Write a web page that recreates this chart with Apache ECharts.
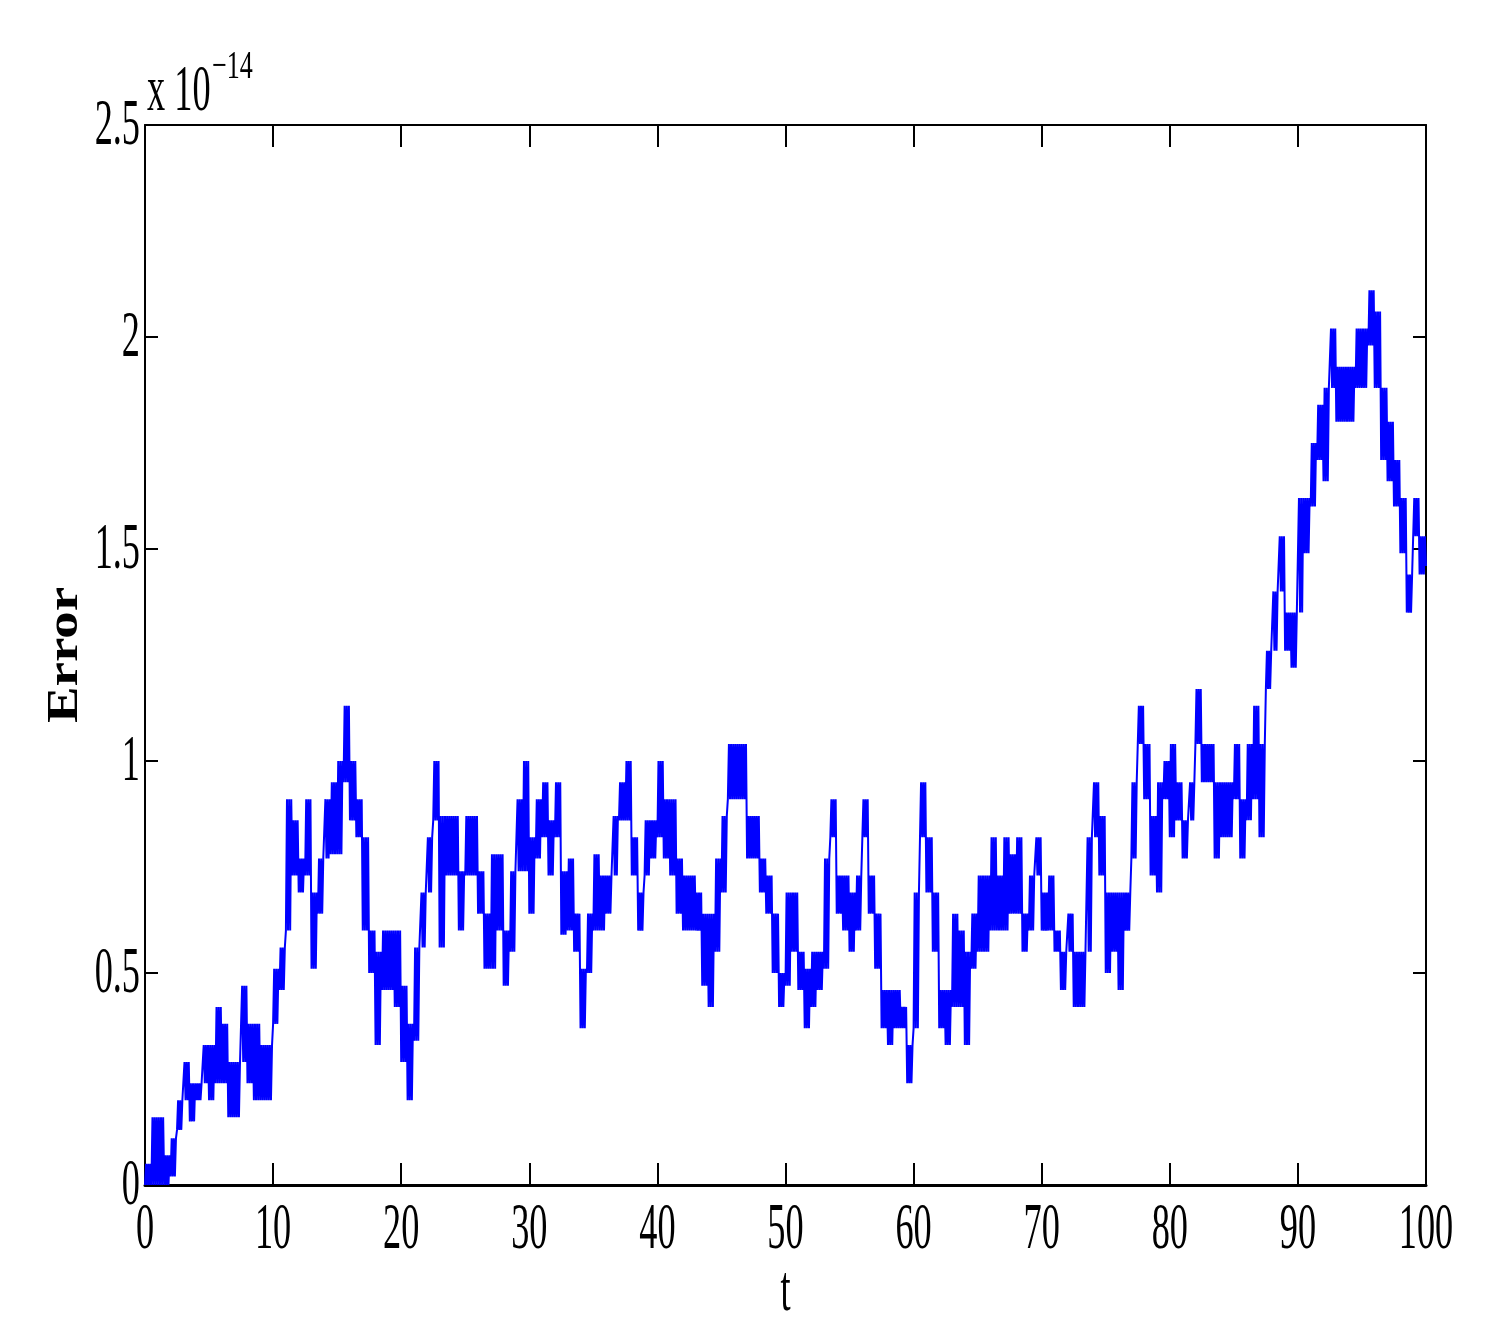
<!DOCTYPE html>
<html><head><meta charset="utf-8">
<script src="https://cdn.jsdelivr.net/npm/echarts@6/dist/echarts.min.js"></script>
<style>html,body{margin:0;padding:0;background:#fff}#c{width:1511px;height:1337px}</style>
</head><body><div id="c"></div>
<script>
// time resolution of the envelope bins (t units)
const binStep = 0.5;
// lower / upper envelope of the error in each bin (units of 1e-14)
const errLow = [
 0,0,0,0,0.02,0.13,0.2,0.15,0.2,0.24,0.2,0.24,0.24,0.16,0.16,0.29,0.24,0.2,0.2,0.2,
 0.38,0.46,0.6,0.73,0.69,0.73,0.51,0.64,0.77,0.78,0.78,0.95,0.86,0.82,0.6,0.5,0.33,0.46,0.46,0.42,
 0.29,0.2,0.34,0.56,0.69,0.86,0.56,0.73,0.73,0.6,0.73,0.73,0.64,0.51,0.51,0.6,0.47,0.55,0.74,0.74,
 0.64,0.77,0.82,0.73,0.82,0.59,0.6,0.55,0.37,0.5,0.6,0.6,0.64,0.73,0.86,0.86,0.73,0.6,0.73,0.77,
 0.82,0.77,0.73,0.64,0.6,0.6,0.6,0.47,0.42,0.55,0.69,0.91,0.91,0.91,0.77,0.77,0.69,0.64,0.5,0.42,
 0.47,0.55,0.46,0.37,0.42,0.46,0.51,0.82,0.64,0.6,0.55,0.6,0.82,0.64,0.51,0.37,0.33,0.37,0.37,0.24,
 0.37,0.82,0.69,0.55,0.37,0.33,0.42,0.42,0.33,0.51,0.55,0.55,0.6,0.6,0.6,0.64,0.64,0.55,0.6,0.73,
 0.6,0.6,0.55,0.46,0.55,0.42,0.42,0.55,0.82,0.73,0.5,0.55,0.46,0.6,0.77,1.04,0.91,0.73,0.69,0.91,
 0.82,0.86,0.77,0.86,1.04,0.95,0.95,0.77,0.82,0.82,0.91,0.77,0.86,0.91,0.82,1.17,1.26,1.4,1.26,1.22,
 1.35,1.49,1.6,1.71,1.66,1.88,1.8,1.8,1.8,1.88,1.88,1.98,1.88,1.71,1.66,1.6,1.49,1.35,1.53,1.44
];
const errHigh = [
 0.05,0.16,0.16,0.07,0.11,0.2,0.29,0.24,0.24,0.33,0.33,0.42,0.38,0.29,0.29,0.47,0.38,0.38,0.33,0.33,
 0.51,0.56,0.91,0.86,0.77,0.91,0.69,0.77,0.91,0.95,1.0,1.13,1.0,0.91,0.82,0.6,0.55,0.6,0.6,0.6,
 0.47,0.38,0.56,0.69,0.82,1.0,0.87,0.87,0.87,0.74,0.87,0.87,0.74,0.64,0.78,0.78,0.6,0.74,0.91,1.0,
 0.82,0.91,0.95,0.86,0.95,0.74,0.77,0.64,0.51,0.64,0.78,0.73,0.73,0.87,0.95,1.0,0.82,0.69,0.86,0.86,
 1.0,0.91,0.91,0.77,0.73,0.73,0.69,0.64,0.64,0.77,0.87,1.04,1.04,1.04,0.87,0.87,0.77,0.73,0.64,0.5,
 0.69,0.69,0.55,0.51,0.55,0.55,0.77,0.91,0.73,0.73,0.69,0.73,0.91,0.73,0.64,0.46,0.46,0.46,0.42,0.33,
 0.69,0.95,0.82,0.69,0.46,0.46,0.64,0.6,0.55,0.64,0.73,0.73,0.82,0.73,0.82,0.78,0.82,0.64,0.73,0.82,
 0.69,0.73,0.6,0.55,0.64,0.55,0.55,0.82,0.95,0.87,0.69,0.69,0.69,0.69,0.95,1.13,1.04,0.87,0.95,1.0,
 1.04,0.95,0.86,0.95,1.17,1.04,1.04,0.95,0.95,0.95,1.04,0.91,1.04,1.13,1.04,1.26,1.4,1.53,1.35,1.35,
 1.62,1.62,1.75,1.84,1.88,2.02,1.93,1.93,1.93,2.02,2.02,2.11,2.06,1.88,1.8,1.71,1.62,1.44,1.62,1.53
];
const xTicks = [0,10,20,30,40,50,60,70,80,90,100];
const xTickLabels = ['0','10','20','30','40','50','60','70','80','90','100'];
const yTicks = [0,0.5,1,1.5,2,2.5];
const yTickLabels = ['0','0.5','1','1.5','2','2.5'];
const xTitle = 't';
const yTitle = 'Error';
const expBase = 'x 10';
const expPower = '\u221214';

// build a dense vertical oscillation between the envelopes in each bin
const subPoints = 6;
const lineData = [];
for (let i = 0; i < errLow.length; i++) {
  const t0 = i * binStep;
  for (let k = 0; k < subPoints; k++) {
    lineData.push([t0 + binStep * k / subPoints, k % 2 === 0 ? errLow[i] : errHigh[i]]);
  }
}
lineData.push([100, errLow[errLow.length - 1] + 0.02]);

const chart = echarts.init(document.getElementById('c'), null, {renderer: 'canvas'});
const axisCommon = {
  type: 'value', splitLine: {show: false}, axisLabel: {show: false},
  axisLine: {show: true, onZero: false, lineStyle: {color: '#000', width: 2}},
};
chart.setOption({
  animation: false,
  backgroundColor: '#fff',
  grid: {left: 145, top: 125, right: 85, bottom: 152, containLabel: false},
  xAxis: [
    Object.assign({}, axisCommon, {position: 'bottom', min: 0, max: 100, interval: 10,
      axisLine: {show: true, onZero: false, lineStyle: {color: '#000', width: 3}},
      axisTick: {show: true, inside: true, length: 22, lineStyle: {color: '#000', width: 2}}}),
    Object.assign({}, axisCommon, {position: 'top', min: 0, max: 100, interval: 10,
      axisTick: {show: true, inside: true, length: 22, lineStyle: {color: '#000', width: 2}}})
  ],
  yAxis: [
    Object.assign({}, axisCommon, {position: 'left', min: 0, max: 2.5, interval: 0.5,
      axisTick: {show: true, inside: true, length: 13, lineStyle: {color: '#000', width: 2}}}),
    Object.assign({}, axisCommon, {position: 'right', min: 0, max: 2.5, interval: 0.5,
      axisTick: {show: true, inside: true, length: 13, lineStyle: {color: '#000', width: 2}}})
  ],
  series: [{
    type: 'line', data: lineData, xAxisIndex: 0, yAxisIndex: 0,
    showSymbol: false, symbol: 'none', sampling: null, clip: true,
    lineStyle: {color: '#0000ff', width: 2}
  }]
});

const FONT = '"Liberation Serif", "Times New Roman", serif';
const graphics = [];
const px = (t, v) => chart.convertToPixel({xAxisIndex: 0, yAxisIndex: 0}, [t, v]);
xTicks.forEach((t, i) => {
  const p = px(t, 0);
  graphics.push({type: 'text', x: p[0], y: p[1] + 46, scaleX: 0.55, silent: true,
    style: {text: xTickLabels[i], fontFamily: FONT, fontSize: 66, fill: '#000', align: 'center', verticalAlign: 'middle'}});
});
yTicks.forEach((v, i) => {
  const p = px(0, v);
  graphics.push({type: 'text', x: p[0] - 5, y: p[1] + 2, scaleX: 0.55, silent: true,
    style: {text: yTickLabels[i], fontFamily: FONT, fontSize: 66, fill: '#000', align: 'right', verticalAlign: 'middle'}});
});
const pTop = px(0, 2.5);
graphics.push({type: 'text', x: pTop[0] + 2, y: pTop[1] - 32, scaleX: 0.55, silent: true,
  style: {text: expBase, fontFamily: FONT, fontSize: 66, fill: '#000', align: 'left', verticalAlign: 'middle'}});
graphics.push({type: 'text', x: pTop[0] + 67, y: pTop[1] - 58, scaleX: 0.65, silent: true,
  style: {text: expPower, fontFamily: FONT, fontSize: 40, fill: '#000', align: 'left', verticalAlign: 'middle'}});
const pMid = px(50, 0);
graphics.push({type: 'text', x: pMid[0], y: pMid[1] + 108, scaleX: 0.55, silent: true,
  style: {text: xTitle, fontFamily: FONT, fontSize: 66, fill: '#000', align: 'center', verticalAlign: 'middle'}});
const pY = px(0, 1.25);
graphics.push({type: 'text', x: pY[0] - 80, y: pY[1], rotation: Math.PI / 2, scaleX: 1.22, silent: true,
  style: {text: yTitle, fontFamily: FONT, fontSize: 45, fontWeight: 'bold', fill: '#000', align: 'center', verticalAlign: 'middle'}});
chart.setOption({graphic: graphics});
</script>
</body></html>
